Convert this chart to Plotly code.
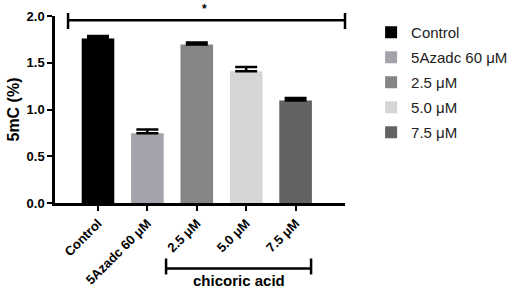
import plotly.graph_objects as go

categories = ["Control", "5Azadc 60 μM", "2.5 μM", "5.0 μM", "7.5 μM"]
values = [1.76, 0.745, 1.695, 1.41, 1.095]
errors = [0.025, 0.04, 0.022, 0.045, 0.027]
colors = ["#000000", "#a3a3ab", "#858585", "#d6d6d6", "#636363"]
group_label = "chicoric acid"
sig_label = "*"

FONT = "Liberation Sans, Arial, sans-serif"

fig = go.Figure()
for i, (c, v, e, col) in enumerate(zip(categories, values, errors, colors)):
    fig.add_trace(go.Bar(
        x=[c], y=[v], name=c, legendgroup=f"g{i}",
        marker=dict(color=col, line=dict(width=0)),
        width=0.66,
        error_y=dict(type="data", array=[e], arrayminus=[0], symmetric=False,
                     color="black", thickness=2.5, width=11),
    ))

fig.update_layout(
    width=512, height=289,
    margin=dict(l=55, r=167, t=16, b=86, autoexpand=False),
    paper_bgcolor="white", plot_bgcolor="white",
    font=dict(family=FONT, color="black"),
    showlegend=True,
    legend=dict(x=1.09, xanchor="left", y=1.0, yanchor="top",
                font=dict(size=15, family=FONT, color="#222"),
                tracegroupgap=2.5, itemwidth=30, bgcolor="rgba(0,0,0,0)"),
)
fig.update_xaxes(
    type="category", categoryorder="array", categoryarray=categories,
    range=[-0.87, 5.0], automargin=False,
    showline=True, linecolor="black", linewidth=2.5,
    ticks="outside", ticklen=5, tickwidth=2, tickcolor="black",
    tickangle=-45, tickfont=dict(size=13, weight="bold", family=FONT),
    showgrid=False, zeroline=False,
)
fig.update_yaxes(
    range=[0, 2.0], dtick=0.5, tickformat=".1f", automargin=False,
    showline=True, linecolor="black", linewidth=2.5,
    ticks="outside", ticklen=5, tickwidth=2, tickcolor="black",
    tickfont=dict(size=13, weight="bold", family=FONT),
    title=dict(text="5mC (%)", font=dict(size=16, weight="bold", family=FONT), standoff=3),
    showgrid=False, zeroline=False,
)

# significance bracket (top)
lw = 2.5
fig.add_shape(type="line", xref="paper", yref="paper", x0=0.045, x1=1.0, y0=0.977, y1=0.977,
              line=dict(color="black", width=lw))
for xx in (0.045, 1.0):
    fig.add_shape(type="line", xref="paper", yref="paper", x0=xx, x1=xx, y0=0.93, y1=1.016,
                  line=dict(color="black", width=lw))
fig.add_annotation(text=sig_label, xref="paper", yref="paper", x=0.517, y=0.99,
                   showarrow=False, yanchor="bottom", font=dict(size=12, weight="bold"))

# group bracket (bottom)
fig.add_shape(type="line", xref="paper", yref="paper", x0=0.383, x1=0.883, y0=-0.35, y1=-0.35,
              line=dict(color="black", width=lw))
for xx in (0.383, 0.883):
    fig.add_shape(type="line", xref="paper", yref="paper", x0=xx, x1=xx, y0=-0.297, y1=-0.382,
                  line=dict(color="black", width=lw))
fig.add_annotation(text=group_label, xref="paper", yref="paper", x=0.633, y=-0.414,
                   showarrow=False, yanchor="middle", font=dict(size=15, weight="bold"))

fig.write_html("out.html", config={"displayModeBar": False},
               post_script="document.body.style.margin='0';document.body.style.overflow='hidden';")
